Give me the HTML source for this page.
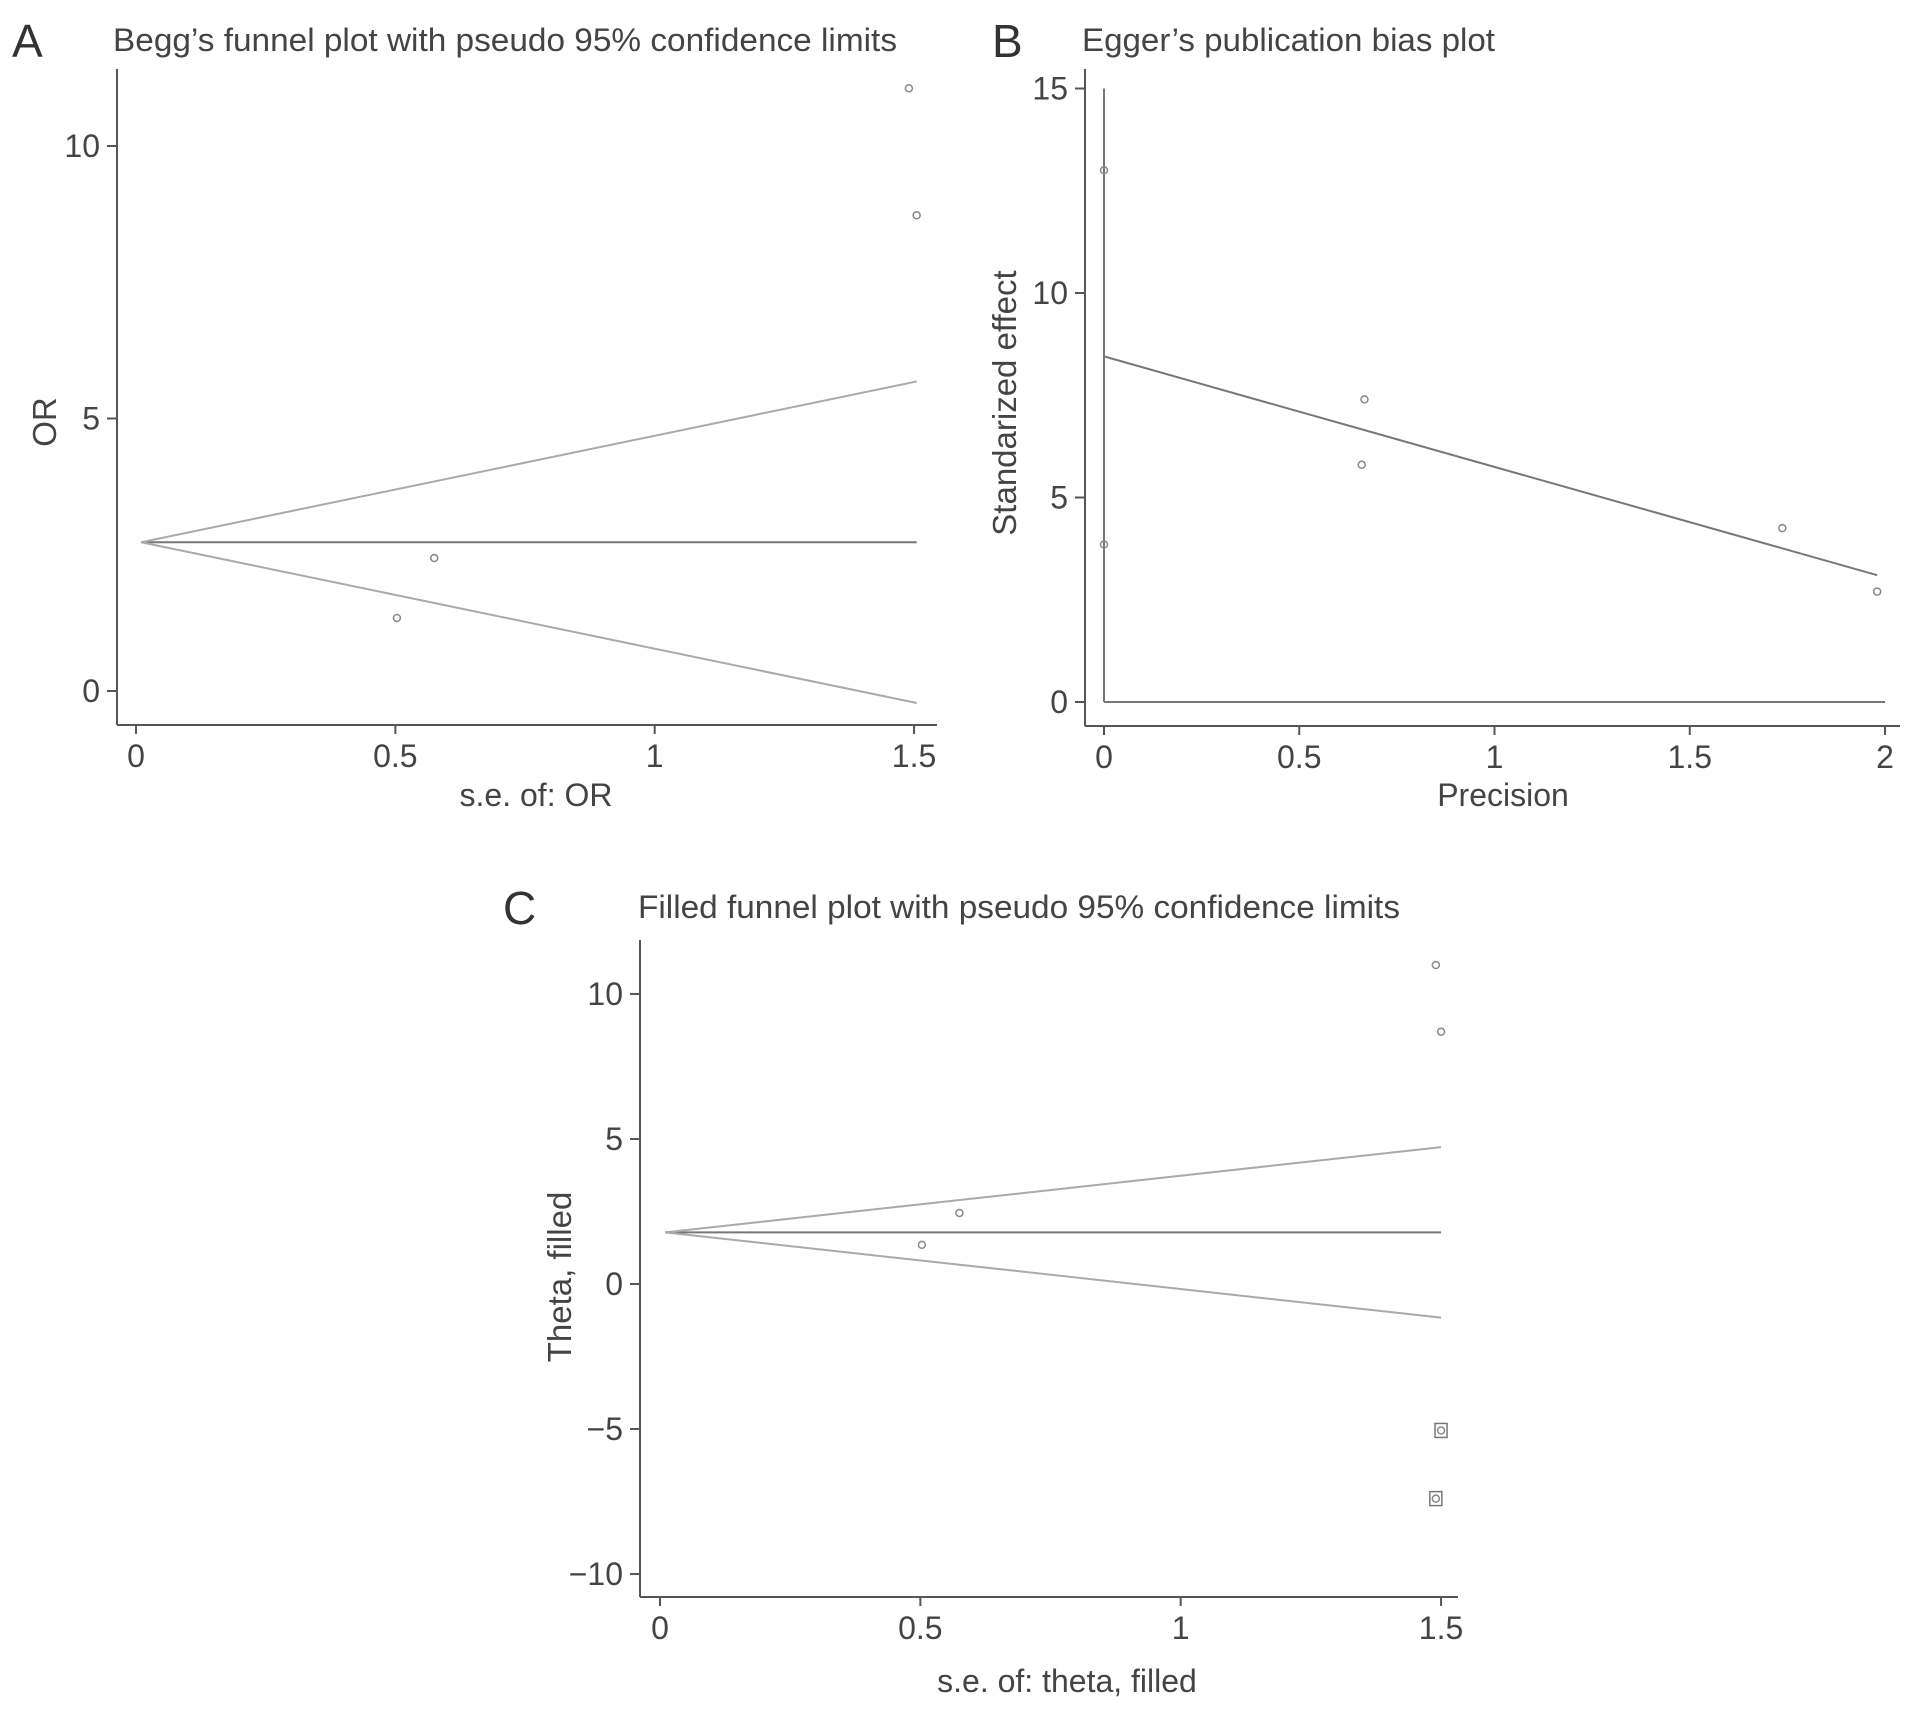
<!DOCTYPE html>
<html><head><meta charset="utf-8"><style>
html,body{margin:0;padding:0;background:#fff;}
svg{display:block;font-family:"Liberation Sans",Arial,sans-serif;}
</style></head><body>
<svg id="fig" width="1913" height="1710" viewBox="0 0 1913 1710" xmlns="http://www.w3.org/2000/svg"></svg>
<script>
// Panel A data
const aSe=[1.49,1.505,0.575,0.503];
const aOr=[11.06,8.73,2.44,1.34];
const aTheta=2.73;
const aXTicks=[0,0.5,1,1.5];
const aYTicks=[0,5,10];
// Panel B data
const bPrec=[0,0,0.667,0.66,1.737,1.98];
const bEff=[13.0,3.85,7.4,5.8,4.25,2.7];
const bFit=[8.45,3.1];
const bFitX=[0,1.98];
const bXTicks=[0,0.5,1,1.5,2];
const bYTicks=[0,5,10,15];
// Panel C data
const cSe=[1.49,1.5,0.575,0.503];
const cTheta=[11.0,8.7,2.45,1.35];
const cFilledSe=[1.5,1.49];
const cFilledTheta=[-5.05,-7.4];
const cCenter=1.78;
const cXTicks=[0,0.5,1,1.5];
const cYTicks=[-10,-5,0,5,10];
const tickLabelsC=["\u221210","\u22125","0","5","10"];

const NS="http://www.w3.org/2000/svg";
const svg=document.getElementById('fig');
function el(tag,attrs,parent,text){const e=document.createElementNS(NS,tag);for(const k in attrs)e.setAttribute(k,attrs[k]);if(text!==undefined)e.textContent=text;(parent||svg).appendChild(e);return e;}
const AX='#555',TXT='#444';

function panel(cfg){
  const g=el('g',{},svg);
  
  
  const sx=v=>cfg.x0+(v-cfg.xv0)*cfg.xu;
  const sy=v=>cfg.y0-(v-cfg.yv0)*cfg.yu;
  const ya=el('line',{x1:cfg.axL,y1:cfg.axT,x2:cfg.axL,y2:cfg.axB,stroke:AX,'stroke-width':2},g);
  
  const xa=el('line',{x1:cfg.axL,y1:cfg.axB,x2:cfg.axR,y2:cfg.axB,stroke:AX,'stroke-width':2},g);
  
  cfg.xt.forEach(v=>{
    el('line',{x1:sx(v),y1:cfg.axB,x2:sx(v),y2:cfg.axB+9,stroke:AX,'stroke-width':2},g);
    const t=el('text',{x:sx(v),y:cfg.axB+42,'text-anchor':'middle','font-size':32,fill:TXT},g,String(v));
    
  });
  cfg.yt.forEach((v,i)=>{
    el('line',{x1:cfg.axL-10,y1:sy(v),x2:cfg.axL,y2:sy(v),stroke:AX,'stroke-width':2},g);
    const t=el('text',{x:cfg.axL-17,y:sy(v)+11,'text-anchor':'end','font-size':32,fill:TXT},g,cfg.ytl?cfg.ytl[i]:String(v));
    
  });
  const tt=el('text',{x:cfg.tx,y:cfg.ty,'font-size':32,fill:TXT,textLength:cfg.tw,lengthAdjust:'spacingAndGlyphs'},g,cfg.title);
  
  const pl=el('text',{x:cfg.lx,y:cfg.ty+6,'font-size':46,fill:'#333'},g,cfg.letter);
  
  const xt=el('text',{x:cfg.xtx,y:cfg.xty,'text-anchor':'middle','font-size':32,fill:TXT},g,cfg.xtitle);
  
  const yt=el('text',{x:0,y:0,'text-anchor':'middle','font-size':33,fill:TXT,transform:`translate(${cfg.ytx},${cfg.yty}) rotate(-90)`},g,cfg.ytitle);
  
  return {g,sx,sy};
}
function dot(g,x,y){const c=el('circle',{cx:x,cy:y,r:3.5,fill:'none',stroke:'#888','stroke-width':1.5},g);
}
function line(g,x1,y1,x2,y2,col,name){const l=el('line',{x1,y1,x2,y2,stroke:col,'stroke-width':2},g);
}

// Panel A
const A=panel({name:'panel-a-begg-funnel',x0:136,xv0:0,xu:518.7,y0:691,yv0:0,yu:54.5,axL:117,axR:937,axT:69,axB:725,
 xt:aXTicks,yt:aYTicks,title:"Begg’s funnel plot with pseudo 95% confidence limits",tx:113,ty:51,tw:784,letter:'A',lx:12,
 xtitle:'s.e. of: OR',xtx:536,xty:806,ytitle:'OR',ytx:56,yty:422});
line(A.g,A.sx(0.01),A.sy(aTheta),A.sx(1.505),A.sy(aTheta),'#777','pooled-estimate-line');
line(A.g,A.sx(0.01),A.sy(aTheta),A.sx(1.505),A.sy(aTheta+1.96*1.505),'#aaa','upper-confidence-limit');
line(A.g,A.sx(0.01),A.sy(aTheta),A.sx(1.505),A.sy(aTheta-1.96*1.505),'#aaa','lower-confidence-limit');
aSe.forEach((s,i)=>dot(A.g,A.sx(s),A.sy(aOr[i])));

// Panel B
const B=panel({name:'panel-b-egger-plot',x0:1104,xv0:0,xu:390.5,y0:702,yv0:0,yu:40.9,axL:1085,axR:1900,axT:69,axB:726,
 xt:bXTicks,yt:bYTicks,title:"Egger’s publication bias plot",tx:1082,ty:51,tw:413,letter:'B',lx:992,
 xtitle:'Precision',xtx:1503,xty:806,ytitle:'Standarized effect',ytx:1016,yty:403});
line(B.g,B.sx(0),B.sy(0),B.sx(0),B.sy(15),'#777','vertical-reference-line');
line(B.g,B.sx(0),B.sy(0),B.sx(2),B.sy(0),'#777','zero-reference-line');
line(B.g,B.sx(bFitX[0]),B.sy(bFit[0]),B.sx(bFitX[1]),B.sy(bFit[1]),'#777','regression-line');
bPrec.forEach((p,i)=>dot(B.g,B.sx(p),B.sy(bEff[i])));

// Panel C
const C=panel({name:'panel-c-filled-funnel',x0:660,xv0:0,xu:520.7,y0:1284,yv0:0,yu:29.0,axL:640,axR:1458,axT:940,axB:1597,
 xt:cXTicks,yt:cYTicks,ytl:tickLabelsC,title:"Filled funnel plot with pseudo 95% confidence limits",tx:638,ty:918,tw:762,letter:'C',lx:503,
 xtitle:'s.e. of: theta, filled',xtx:1067,xty:1692,ytitle:'Theta, filled',ytx:571,yty:1277});
line(C.g,C.sx(0.01),C.sy(cCenter),C.sx(1.5),C.sy(cCenter),'#777','pooled-estimate-line');
line(C.g,C.sx(0.01),C.sy(cCenter),C.sx(1.5),C.sy(cCenter+1.96*1.5),'#aaa','upper-confidence-limit');
line(C.g,C.sx(0.01),C.sy(cCenter),C.sx(1.5),C.sy(cCenter-1.96*1.5),'#aaa','lower-confidence-limit');
cSe.forEach((s,i)=>dot(C.g,C.sx(s),C.sy(cTheta[i])));
cFilledSe.forEach((s,i)=>{
  const x=C.sx(s),y=C.sy(cFilledTheta[i]);
  const r=el('rect',{x:x-6,y:y-7,width:12,height:14,fill:'none',stroke:'#777','stroke-width':1.5},C.g);
  
  
  dot(C.g,x,y);
});
</script>
</body></html>
